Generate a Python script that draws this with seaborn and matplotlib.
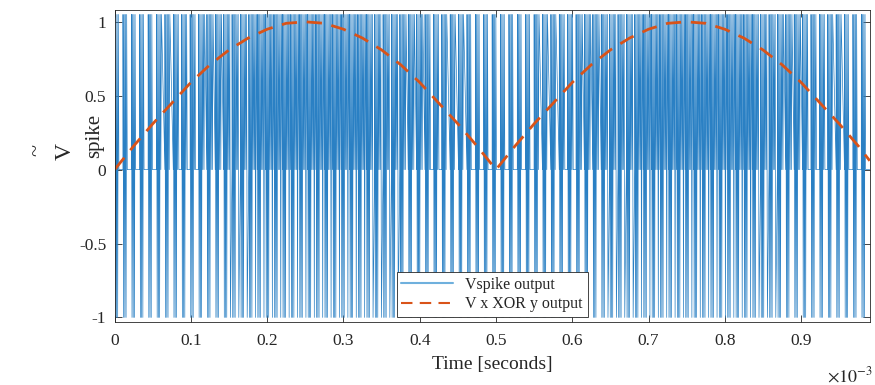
import numpy as np
import pandas as pd
import matplotlib.pyplot as plt
import seaborn as sns

# values (time in ms)
env_t_ms = [0.0, 0.025, 0.05, 0.075, 0.1, 0.125, 0.15, 0.175, 0.2, 0.225, 0.25,
            0.275, 0.3, 0.325, 0.35, 0.375, 0.4, 0.425, 0.45, 0.475, 0.5,
            0.525, 0.55, 0.575, 0.6, 0.625, 0.65, 0.675, 0.7, 0.725, 0.75,
            0.775, 0.8, 0.825, 0.85, 0.875, 0.9, 0.925, 0.95, 0.975, 0.99]
env_v = [0.0, 0.16, 0.31, 0.45, 0.59, 0.71, 0.81, 0.89, 0.95, 0.99, 1.0,
         0.99, 0.95, 0.89, 0.81, 0.71, 0.59, 0.45, 0.31, 0.16, 0.0,
         0.16, 0.31, 0.45, 0.59, 0.71, 0.81, 0.89, 0.95, 0.99, 1.0,
         0.99, 0.95, 0.89, 0.81, 0.71, 0.59, 0.45, 0.31, 0.16, 0.06]

spike_high = 1.05
spike_low = -1.0
burst_period_ms = 0.011
burst_duty = 0.55
osc_step_ms = 0.0008

xticks_ms = [0, 0.1, 0.2, 0.3, 0.4, 0.5, 0.6, 0.7, 0.8, 0.9]
xtick_labels = ["0", "0.1", "0.2", "0.3", "0.4", "0.5", "0.6", "0.7", "0.8", "0.9"]
yticks = [-1, -0.5, 0, 0.5, 1]
ytick_labels = ["-1", "-0.5", "0", "0.5", "1"]

# spike waveform: bipolar bursts, gaps filled with extra spikes by envelope
t_pts, v_pts = [], []
starts = np.arange(0, 0.99, burst_period_ms)
for s in starts:
    env = np.interp(s, env_t_ms, env_v)
    n_burst = int(burst_duty * burst_period_ms / osc_step_ms)
    for j in range(n_burst):
        t_pts.append(s + j * osc_step_ms)
        v_pts.append(spike_high if j % 2 == 0 else spike_low)
    g0 = s + n_burst * osc_step_ms
    t_pts.append(g0)
    v_pts.append(0)
    gap = burst_period_ms - n_burst * osc_step_ms
    n_fill = int(env * gap / osc_step_ms)
    for j in range(1, n_fill):
        t_pts.append(g0 + j * osc_step_ms)
        if j % 2 == 1:
            v_pts.append(spike_high)
        else:
            v_pts.append(spike_low if (j // 2) % 2 == 0 else 0)
    t_pts.append(s + burst_period_ms - 0.0001)
    v_pts.append(0)

spike_df = pd.DataFrame({"t": np.array(t_pts) * 1e-3, "v": v_pts})
env_df = pd.DataFrame({"t": np.array(env_t_ms) * 1e-3, "v": env_v})

sns.set_style("ticks")
plt.rcParams["font.family"] = ["Liberation Serif", "DejaVu Serif"]
plt.rcParams["mathtext.fontset"] = "stix"
plt.rcParams["axes.unicode_minus"] = False

W, H = 875, 385
fig = plt.figure(figsize=(8.75, 3.85), dpi=100)
ax = fig.add_axes([0.131, 0.164, 0.863, 0.81])

sns.lineplot(data=spike_df, x="t", y="v", estimator=None, sort=False,
             color="#2a80c4", lw=0.5, label="Vspike output", ax=ax)
sns.lineplot(data=env_df, x="t", y="v", estimator=None, sort=False,
             color="#D95319", lw=2, label="V x XOR y output", ax=ax)
ax.lines[-1].set_dashes((5.5, 3.5))

ax.set_xlim(0, 0.99e-3)
ax.set_ylim(-1.03, 1.08)
ax.set_xticks(np.array(xticks_ms) * 1e-3, xtick_labels)
ax.set_yticks(yticks, ytick_labels)
ax.tick_params(direction="in", top=True, right=True, length=5, labelsize=12.5,
               color="#262626", width=0.6)
ax.tick_params(axis="x", pad=8)
ax.tick_params(axis="y", pad=6)
for sp in ax.spines.values():
    sp.set_linewidth(0.6)
    sp.set_color("#262626")

ax.set_xlabel("Time [seconds]", fontsize=14, labelpad=5)
ax.set_ylabel("")

# y label drawn in three parts like the reference
fig.text(37 / W, 1 - 150 / H, "~", rotation=90, fontsize=16, ha="center", va="center")
fig.text(65 / W, 1 - 152 / H, "V", rotation=90, fontsize=17, ha="center", va="center")
fig.text(95 / W, 1 - 158 / H, "spike", rotation=90, fontsize=15, ha="center", va="bottom")

ax.text(0.944, -0.175, r"$\times10^{-3}$", transform=ax.transAxes,
        fontsize=13, ha="left", va="center")

leg = ax.legend(loc="lower center", fontsize=11.5, frameon=True, fancybox=False,
                framealpha=1, edgecolor="#262626", handlelength=3.2,
                borderaxespad=0.3, borderpad=0.3, labelspacing=0.2)
leg.get_frame().set_linewidth(0.6)
for h in leg.get_lines():
    h.set_linewidth(1.5)
leg.get_lines()[0].set_color("#6fb0dd")

fig.savefig("out.png", dpi=100)
